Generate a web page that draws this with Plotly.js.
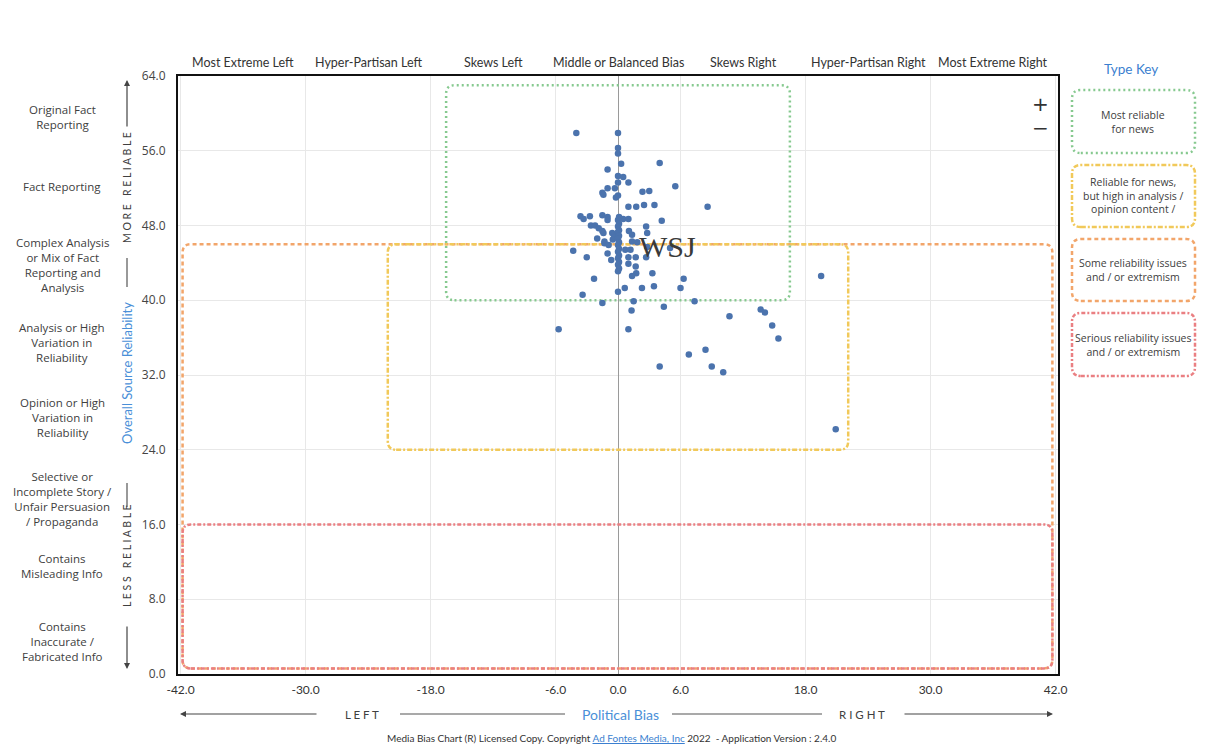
<!DOCTYPE html>
<html>
<head>
<meta charset="utf-8">
<script src="https://cdn.plot.ly/plotly-3.0.1.min.js"></script>
<style>
  html, body { margin: 0; padding: 0; background: #ffffff; }
  #chart { width: 1208px; height: 751px; }
</style>
</head>
<body>
<div id="chart"></div>
<script>
// ---- Data ----
const biasScores = [
  -4.0, 0, 0, 0, 0.3, 4.0, -1.0, 0, 0.5, 0, 1.0, 5.5, -1.0, -0.3, -1.5, -1.4, 2.35, 3.0, 0, -0.2,
  1.0, 1.75, 2.5, 3.5, 8.6,
  -3.6, -3.3, -2.7, -1.5, -1.0, -1.0, 0.5, 1.0, 4.2, -2.6, -2.2, -1.85, -1.5, -1.4, -0.55, -0.4,
  2.7, 2.8, 1.05, 1.35, -2.0, -1.3, -1.3, -0.5, -0.9, 1.35, 1.85, 2.8, 0.7, 1.2, 5.0,
  -4.3, -3.0, -1.0, -0.65, 1.0, 1.7, 2.7, 1.0, 1.7, 1.75, 1.35, 3.3, -2.3, 6.3,
  0.65, 2.3, 3.45, 6.0, 0, -3.4, -1.5, 1.5, 7.35, 4.4, 1.3, -5.7, 1.0,
  4.0, 6.8, 8.4, 9.0, 10.1, 10.7, 13.7, 14.1, 14.8, 15.4, 19.5, 20.9,
  0.1, 0, 0.1, 0, 0.1, 0, 0.1, 0, 0.1, 0, 0.1, 0, 0.1, 0, 0.1, 0, 0.1, 0
];
const reliabilityScores = [
  57.9, 57.9, 56.3, 55.7, 54.6, 54.7, 54.0, 53.3, 53.2, 52.6, 52.6, 52.2, 52.0, 52.0, 51.5, 51.3, 51.6, 51.7, 51.2, 51.0,
  50.0, 50.0, 50.2, 50.2, 50.0,
  49.0, 48.7, 49.0, 49.1, 48.9, 48.6, 48.7, 48.7, 48.5, 48.0, 48.0, 47.7, 47.4, 47.2, 47.2, 47.0,
  47.9, 47.2, 47.4, 47.0, 46.6, 46.3, 46.1, 46.5, 45.9, 46.3, 46.2, 45.7, 45.4, 45.4, 45.6,
  45.3, 44.6, 45.0, 44.3, 44.6, 44.6, 44.6, 43.9, 43.6, 42.9, 42.6, 42.9, 42.3, 42.3,
  41.3, 41.3, 41.5, 41.3, 40.9, 40.6, 39.7, 39.9, 39.9, 39.3, 38.9, 36.9, 36.9,
  32.9, 34.2, 34.7, 32.9, 32.3, 38.3, 39.0, 38.7, 37.3, 35.9, 42.6, 26.2,
  48.9, 48.6, 48.2, 47.9, 47.5, 47.3, 46.9, 46.6, 46.2, 45.9, 45.5, 45.2, 44.8, 44.5, 44.1, 43.8, 43.4, 43.1
];

const xTickVals = [-42, -30, -18, -6, 0, 6, 18, 30, 42];
const xTickText = ["-42.0", "-30.0", "-18.0", "-6.0", "0.0", "6.0", "18.0", "30.0", "42.0"];
const yTickVals = [0, 8, 16, 24, 32, 40, 48, 56, 64];
const yTickText = ["0.0", "8.0", "16.0", "24.0", "32.0", "40.0", "48.0", "56.0", "64.0"];

const biasCategories = ["Most Extreme Left", "Hyper-Partisan Left", "Skews Left", "Middle or Balanced Bias",
                        "Skews Right", "Hyper-Partisan Right", "Most Extreme Right"];
const biasCategoryCenters = [-36, -24, -12, 0, 12, 24, 36];

const reliabilityCategories = [
  "Original Fact<br>Reporting",
  "Fact Reporting",
  "Complex Analysis<br>or Mix of Fact<br>Reporting and<br>Analysis",
  "Analysis or High<br>Variation in<br>Reliability",
  "Opinion or High<br>Variation in<br>Reliability",
  "Selective or<br>Incomplete Story /<br>Unfair Persuasion<br>/ Propaganda",
  "Contains<br>Misleading Info",
  "Contains<br>Inaccurate /<br>Fabricated Info"
];
const reliabilityCategoryCenters = [59.6, 52.2, 43.8, 35.5, 27.4, 18.7, 11.6, 3.5];

const typeKeyLabels = [
  "Most reliable<br>for news",
  "Reliable for news,<br>but high in analysis /<br>opinion content /",
  "Some reliability issues<br>and / or extremism",
  "Serious reliability issues<br>and / or extremism"
];

// ---- Styling ----
const GREEN = "#86c98f", YELLOW = "#f1c95a", ORANGE = "#f2a56a", RED = "#ea7f82";
const BLUE = "#4a8fd8", TEXT = "#404040";
const DASH_GREEN = "2px,3px", DASH_YELLOW = "5px,2px,2px,2px", DASH_ORANGE = "4px,3px", DASH_RED = "4px,2px,2px,2px";

function roundRect(x0, y0, x1, y1, rx, ry) {
  return `M ${x0 + rx},${y0} L ${x1 - rx},${y0} Q ${x1},${y0} ${x1},${y0 + ry} ` +
         `L ${x1},${y1 - ry} Q ${x1},${y1} ${x1 - rx},${y1} L ${x0 + rx},${y1} ` +
         `Q ${x0},${y1} ${x0},${y1 - ry} L ${x0},${y0 + ry} Q ${x0},${y0} ${x0 + rx},${y0} Z`;
}

const W = 880, H = 598, ML = 178, MT = 76;
const px2paperX = px => (px - ML) / W;
const py2paperY = py => (MT + H - py) / H;

const shapes = [];
// Zone boxes (data coordinates), drawn above the grid but below the points
shapes.push({type: "path", xref: "x", yref: "y", layer: "between",
  path: roundRect(-41.8, 0.6, 41.7, 46, 0.8, 0.9), line: {color: ORANGE, width: 2.5, dash: DASH_ORANGE}});
shapes.push({type: "path", xref: "x", yref: "y", layer: "between",
  path: roundRect(-41.8, 0.6, 41.7, 16, 0.8, 0.9), line: {color: RED, width: 2.5, dash: DASH_RED}});
shapes.push({type: "path", xref: "x", yref: "y", layer: "between",
  path: roundRect(-22.1, 24, 22.1, 46, 0.8, 0.9), line: {color: YELLOW, width: 2.5, dash: DASH_YELLOW}});
shapes.push({type: "path", xref: "x", yref: "y", layer: "between",
  path: roundRect(-16.5, 40, 16.5, 63, 0.8, 0.9), line: {color: GREEN, width: 2.5, dash: DASH_GREEN}});

// Type key boxes (paper coordinates)
const keyColors = [GREEN, YELLOW, ORANGE, RED];
const keyDash = [DASH_GREEN, DASH_YELLOW, DASH_ORANGE, DASH_RED];
const keyTops = [90, 165, 239, 313];
const keyBottoms = [153, 227, 301, 376];
for (let i = 0; i < 4; i++) {
  shapes.push({type: "path", xref: "paper", yref: "paper",
    path: roundRect(px2paperX(1072), py2paperY(keyBottoms[i]), px2paperX(1195), py2paperY(keyTops[i]), 0.01, 0.015),
    line: {color: keyColors[i], width: 2.5, dash: keyDash[i]}});
}

// Left vertical guide segments
const leftX = px2paperX(127);
[[258, 287], [483, 507]].forEach(s => {
  shapes.push({type: "line", xref: "paper", yref: "paper", x0: leftX, x1: leftX,
    y0: py2paperY(s[0]), y1: py2paperY(s[1]), line: {color: "#555", width: 1.2}});
});
// Bottom horizontal guide segments
const botY = py2paperY(714);
[[400, 565], [672, 822]].forEach(s => {
  shapes.push({type: "line", xref: "paper", yref: "paper", y0: botY, y1: botY,
    x0: px2paperX(s[0]), x1: px2paperX(s[1]), line: {color: "#555", width: 1.2}});
});

const annotations = [];
const arrowBase = {text: "", showarrow: true, arrowhead: 2, arrowsize: 1, arrowwidth: 1.2, arrowcolor: "#444",
  xref: "paper", yref: "paper", axref: "pixel", ayref: "pixel"};
annotations.push(Object.assign({}, arrowBase, {x: leftX, y: py2paperY(80), ax: 0, ay: 48}));
annotations.push(Object.assign({}, arrowBase, {x: leftX, y: py2paperY(669), ax: 0, ay: -44}));
annotations.push(Object.assign({}, arrowBase, {x: px2paperX(180), y: botY, ax: 138, ay: 0}));
annotations.push(Object.assign({}, arrowBase, {x: px2paperX(1053), y: botY, ax: -150, ay: 0}));

annotations.push({text: "M O R E   R E L I A B L E", xref: "paper", yref: "paper", x: leftX, y: py2paperY(188),
  textangle: -90, showarrow: false, font: {family: "Lato", size: 10.5, color: TEXT}});
annotations.push({text: "Overall Source Reliability", xref: "paper", yref: "paper", x: leftX, y: py2paperY(373),
  textangle: -90, showarrow: false, font: {family: "Lato", size: 13, color: BLUE}});
annotations.push({text: "L E S S   R E L I A B L E", xref: "paper", yref: "paper", x: leftX, y: py2paperY(556),
  textangle: -90, showarrow: false, font: {family: "Lato", size: 10.5, color: TEXT}});

annotations.push({text: "L E F T", xref: "paper", yref: "paper", x: px2paperX(362), y: botY,
  showarrow: false, font: {family: "Lato", size: 11.5, color: TEXT}});
annotations.push({text: "Political Bias", xref: "paper", yref: "paper", x: px2paperX(620), y: botY,
  showarrow: false, font: {family: "Lato", size: 14, color: BLUE}});
annotations.push({text: "R I G H T", xref: "paper", yref: "paper", x: px2paperX(862), y: botY,
  showarrow: false, font: {family: "Lato", size: 11.5, color: TEXT}});

annotations.push({
  text: "Media Bias Chart (R) Licensed Copy. Copyright <span style='color:#3b7fd0'><u>Ad Fontes Media, Inc</u></span> 2022  - Application Version : 2.4.0",
  xref: "paper", yref: "paper", x: px2paperX(611), y: py2paperY(738), showarrow: false,
  font: {family: "Lato", size: 10, color: "#333"}});

biasCategories.forEach((t, i) => {
  annotations.push({text: t, xref: "x", yref: "paper", x: biasCategoryCenters[i], y: py2paperY(62),
    showarrow: false, font: {family: "Lato", size: 12.5, color: "#333"}});
});
reliabilityCategories.forEach((t, i) => {
  annotations.push({text: t, xref: "paper", yref: "y", x: px2paperX(62), y: reliabilityCategoryCenters[i],
    showarrow: false, align: "center", font: {family: "Open Sans", size: 11.5, color: TEXT}});
});

annotations.push({text: "Type Key", xref: "paper", yref: "paper", x: px2paperX(1131), y: py2paperY(69),
  showarrow: false, font: {family: "Lato", size: 13.5, color: "#3b7fd0"}});
const keyCenters = [122, 195, 270, 345];
typeKeyLabels.forEach((t, i) => {
  annotations.push({text: t, xref: "paper", yref: "paper", x: px2paperX(1133), y: py2paperY(keyCenters[i]),
    showarrow: false, align: "center", font: {family: "Open Sans", size: 10.5, color: TEXT}});
});

// WSJ logo text next to its dot
annotations.push({text: "WSJ", xref: "x", yref: "y", x: 4.75, y: 45.8, showarrow: false,
  font: {family: "Liberation Serif", size: 30, color: "#3a3a3a"}});

// Zoom +/- controls
annotations.push({text: "+", xref: "paper", yref: "paper", x: px2paperX(1040), y: py2paperY(104),
  showarrow: false, font: {family: "DejaVu Sans", size: 20, color: "#333"}});
annotations.push({text: "\u2212", xref: "paper", yref: "paper", x: px2paperX(1040), y: py2paperY(128),
  showarrow: false, font: {family: "DejaVu Sans", size: 20, color: "#333"}});

// center every text annotation on its anchor point
annotations.forEach(a => { if (a.showarrow === false) { a.xanchor = "center"; a.yanchor = "middle"; } });

const trace = {
  type: "scatter", mode: "markers",
  x: biasScores, y: reliabilityScores,
  marker: {color: "#4b73ad", size: 6.5},
  hoverinfo: "x+y", showlegend: false
};

const layout = {
  width: 1208, height: 751,
  margin: {l: ML, r: 1208 - ML - W, t: MT, b: 751 - MT - H},
  paper_bgcolor: "#ffffff", plot_bgcolor: "#ffffff",
  showlegend: false,
  xaxis: {
    range: [-42.24, 42.24], tickvals: xTickVals, ticktext: xTickText,
    showgrid: true, gridcolor: "#e8e8e8", gridwidth: 1,
    zeroline: true, zerolinecolor: "#9a9a9a", zerolinewidth: 1,
    showline: true, linecolor: "#111", linewidth: 2, mirror: true,
    ticks: "outside", ticklen: 4, tickcolor: "rgba(0,0,0,0)",
    tickfont: {family: "Lato", size: 12, color: "#333"}, fixedrange: true
  },
  yaxis: {
    range: [0, 64], tickvals: yTickVals, ticktext: yTickText,
    showgrid: true, gridcolor: "#e8e8e8", gridwidth: 1, zeroline: false,
    showline: true, linecolor: "#111", linewidth: 2, mirror: true,
    ticks: "outside", ticklen: 8, tickcolor: "rgba(0,0,0,0)",
    tickfont: {family: "Open Sans", size: 12, color: "#444"}, fixedrange: true
  },
  shapes: shapes,
  annotations: annotations
};

Plotly.newPlot("chart", [trace], layout, {displayModeBar: false});
</script>
</body>
</html>
